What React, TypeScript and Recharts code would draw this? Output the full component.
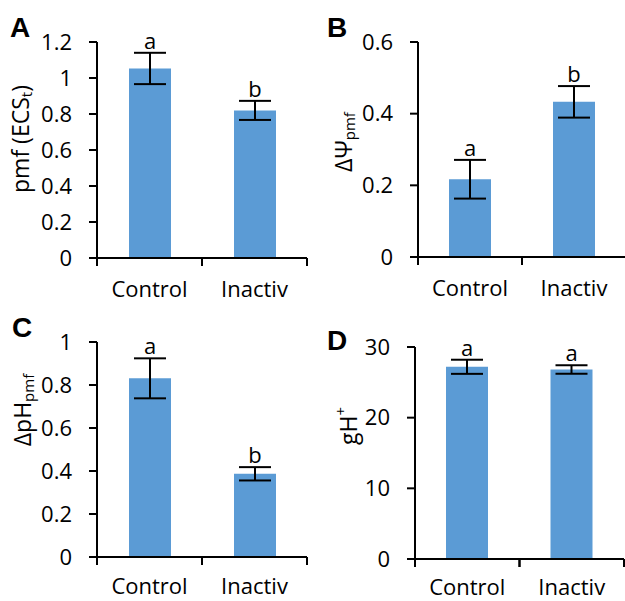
import { Bar, BarChart, ErrorBar, LabelList, XAxis, YAxis } from "recharts";
import type { ReactNode } from "react";

const groups = ["Control", "Inactiv"];

// A: pmf (ECSt)
const pmfValues = [1.053, 0.82];
const pmfErrors = [0.087, 0.053];
const pmfLetters = ["a", "b"];
const pmfTicks = [0, 0.2, 0.4, 0.6, 0.8, 1, 1.2];

// B: delta psi
const psiValues = [0.217, 0.433];
const psiErrors = [0.054, 0.044];
const psiLetters = ["a", "b"];
const psiTicks = [0, 0.2, 0.4, 0.6];

// C: delta pH
const phValues = [0.831, 0.387];
const phErrors = [0.093, 0.031];
const phLetters = ["a", "b"];
const phTicks = [0, 0.2, 0.4, 0.6, 0.8, 1];

// D: gH+
const ghValues = [27.2, 26.8];
const ghErrors = [1.0, 0.6];
const ghLetters = ["a", "a"];
const ghTicks = [0, 10, 20, 30];

const FONT = "'Open Sans', sans-serif";
const BLUE = "#5B9BD5";
const Y_AXIS_W = 60;
const X_AXIS_H = 46;

type Frame = {
  left: number;
  top: number;
  w: number;
  h: number;
  x0: number;
  x1: number;
  y0: number;
  y1: number;
  labelDy: number;
};

type PanelProps = {
  tag: string;
  tagPos: [number, number];
  title: ReactNode;
  titlePos: [number, number];
  values: number[];
  errors: number[];
  letters: string[];
  ticks: number[];
  frame: Frame;
};

function Panel({ tag, tagPos, title, titlePos, values, errors, letters, ticks, frame }: PanelProps) {
  const data = groups.map((g, i) => ({ name: g, value: values[i], err: errors[i], letter: letters[i] }));
  const halfBand = (frame.x1 - frame.x0) / 4;
  const margin = {
    top: frame.y0,
    left: frame.x0 - Y_AXIS_W,
    right: frame.w - frame.x1,
    bottom: frame.h - frame.y1 - X_AXIS_H,
  };

  // category-boundary ticks like the source, label centred under the bar
  const xTick = (p: any) => (
    <g>
      <line x1={p.x - halfBand} x2={p.x - halfBand} y1={p.y} y2={p.y + 8} stroke="#000" strokeWidth={2} />
      <line x1={p.x + halfBand} x2={p.x + halfBand} y1={p.y} y2={p.y + 8} stroke="#000" strokeWidth={2} />
      <text x={p.x} y={p.y + frame.labelDy} textAnchor="middle" fontSize={22} fontFamily={FONT} fill="#000">
        {p.payload.value}
      </text>
    </g>
  );

  const letterLabel = (p: any) => {
    const d = data[p.index];
    const top = p.y - (d.err * p.height) / d.value;
    return (
      <text x={p.x + p.width / 2} y={top - 4} textAnchor="middle" fontSize={22} fontFamily={FONT} fill="#000">
        {d.letter}
      </text>
    );
  };

  const titleLabel = () => (
    <g>
      <text x={tagPos[0]} y={tagPos[1]} fontSize={28} fontWeight="bold" fontFamily="'Liberation Sans', Arial, sans-serif" fill="#000">
        {tag}
      </text>
      <text
        x={titlePos[0]}
        y={titlePos[1]}
        transform={`rotate(-90, ${titlePos[0]}, ${titlePos[1]})`}
        textAnchor="middle"
        dominantBaseline="central"
        fontSize={23}
        fontFamily={FONT}
        fill="#000"
      >
        {title}
      </text>
    </g>
  );

  return (
    <div style={{ position: "absolute", left: frame.left, top: frame.top }}>
      <BarChart width={frame.w} height={frame.h} data={data} margin={margin}>
        <XAxis
          dataKey="name"
          height={X_AXIS_H}
          axisLine={{ stroke: "#000", strokeWidth: 2 }}
          tickLine={false}
          tickSize={0}
          tickMargin={0}
          tick={xTick}
          interval={0}
        />
        <YAxis
          width={Y_AXIS_W}
          domain={[ticks[0], ticks[ticks.length - 1]]}
          ticks={ticks}
          interval={0}
          axisLine={{ stroke: "#000", strokeWidth: 2 }}
          tickLine={{ stroke: "#000", strokeWidth: 2 }}
          tickSize={8}
          tickMargin={17}
          tick={{ fill: "#000", fontSize: 22, fontFamily: FONT }}
          label={{ content: titleLabel }}
        />
        <Bar dataKey="value" fill={BLUE} barSize={42} isAnimationActive={false}>
          <ErrorBar dataKey="err" direction="y" width={16} stroke="#000" strokeWidth={2} />
          <LabelList dataKey="letter" content={letterLabel} />
        </Bar>
      </BarChart>
    </div>
  );
}

export default function App() {
  return (
    <div
      style={{
        position: "absolute",
        left: 0,
        top: 0,
        width: 625,
        height: 601,
        overflow: "hidden",
        background: "#fff",
        fontFamily: FONT,
      }}
    >
      <Panel
        tag="A"
        tagPos={[10, 37]}
        title={
          <>
            pmf (ECS<tspan dy={6} fontSize={15}>t</tspan>
            <tspan dy={-6}>)</tspan>
          </>
        }
        titlePos={[20, 139]}
        values={pmfValues}
        errors={pmfErrors}
        letters={pmfLetters}
        ticks={pmfTicks}
        frame={{ left: 0, top: 0, w: 310, h: 310, x0: 97, x1: 307, y0: 42, y1: 258, labelDy: 38.5 }}
      />
      <Panel
        tag="B"
        tagPos={[17, 37]}
        title={
          <>
            ΔΨ<tspan dy={6} fontSize={15}>pmf</tspan>
          </>
        }
        titlePos={[33, 142]}
        values={psiValues}
        errors={psiErrors}
        letters={psiLetters}
        ticks={psiTicks}
        frame={{ left: 310, top: 0, w: 316, h: 310, x0: 108, x1: 316, y0: 42, y1: 257, labelDy: 38.5 }}
      />
      <Panel
        tag="C"
        tagPos={[12, 37]}
        title={
          <>
            ΔpH<tspan dy={6} fontSize={15}>pmf</tspan>
          </>
        }
        titlePos={[22, 110]}
        values={phValues}
        errors={phErrors}
        letters={phLetters}
        ticks={phTicks}
        frame={{ left: 0, top: 300, w: 310, h: 310, x0: 97, x1: 307, y0: 42, y1: 257, labelDy: 37 }}
      />
      <Panel
        tag="D"
        tagPos={[17, 50]}
        title={
          <>
            gH<tspan dy={-8} fontSize={15}>+</tspan>
          </>
        }
        titlePos={[38, 126]}
        values={ghValues}
        errors={ghErrors}
        letters={ghLetters}
        ticks={ghTicks}
        frame={{ left: 310, top: 300, w: 315, h: 310, x0: 105, x1: 314, y0: 47, y1: 259, labelDy: 35.5 }}
      />
    </div>
  );
}
